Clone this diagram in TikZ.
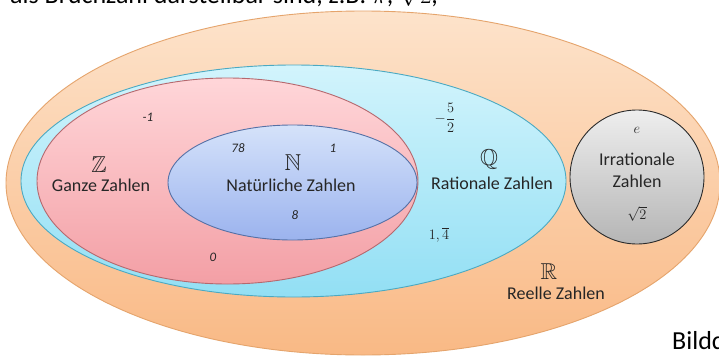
\documentclass[tikz,border=0pt]{standalone}
\usepackage{amsmath,amssymb}
\usepackage{fontspec}
\setmainfont{Carlito}
\usetikzlibrary{shapes.geometric,positioning}

\definecolor{rtop}{HTML}{FDE3CB}
\definecolor{rbot}{HTML}{F9B985}
\definecolor{rline}{HTML}{E5A46C}
\definecolor{qtop}{HTML}{D2F4FC}
\definecolor{qbot}{HTML}{92DFF4}
\definecolor{qline}{HTML}{4BA9C2}
\definecolor{ztop}{HTML}{FFD6D9}
\definecolor{zbot}{HTML}{F39FA5}
\definecolor{zline}{HTML}{B5686E}
\definecolor{ntop}{HTML}{D5E2FA}
\definecolor{nbot}{HTML}{9BB3EE}
\definecolor{nline}{HTML}{5671A6}
\definecolor{itop}{HTML}{EEEEEE}
\definecolor{ibot}{HTML}{B5B5B5}
\definecolor{iline}{HTML}{2B2B2B}
\definecolor{schrift}{HTML}{262626}

\begin{document}
\begin{tikzpicture}[x=1pt, y=-1pt, node distance=1pt,
  menge/.style={ellipse, draw, inner sep=0pt, line width=0.9pt},
  mname/.style={font=\fontsize{18}{20}\selectfont, text=schrift, inner sep=0pt},
  msym/.style={font=\fontsize{23}{26}\selectfont, text=schrift, inner sep=0pt},
  zahl/.style={font=\fontsize{13}{15}\selectfont\itshape, text=schrift, inner sep=0pt},
  mzahl/.style={font=\fontsize{14}{16}\selectfont, text=schrift, inner sep=0pt}]
\useasboundingbox (0,0) rectangle (719,356);
\clip (0,0) rectangle (719,356);
\fill [white] (0,0) rectangle (719,356);

% Mengen
\node [menge, draw=rline, top color=rtop, bottom color=rbot,
  minimum width=714, minimum height=344] (R) at (363,183) {};
\node [menge, draw=qline, top color=qtop, bottom color=qbot,
  minimum width=545, minimum height=232] (Q) at (293.5,181) {};
\node [menge, draw=zline, top color=ztop, bottom color=zbot,
  minimum width=381, minimum height=206] (Z) at (227.5,181) {};
\node [menge, draw=nline, top color=ntop, bottom color=nbot,
  minimum width=249, minimum height=115] (N) at (292.5,182.5) {};
\node [menge, draw=iline, top color=itop, bottom color=ibot,
  minimum width=134, minimum height=134] (I) at (637,177) {};

% Beschriftungen
\node [mname] (zname) at (101,185) {Ganze Zahlen};
\node [msym] (zsym) at (99,165) {$\mathbb{Z}$};
\node [mname] (nname) at (291,185) {Natürliche Zahlen};
\node [msym] (nsym) at (293,163) {$\mathbb{N}$};
\node [mname] (qname) at (492,183) {Rationale Zahlen};
\node [msym] (qsym) at (489,159) {$\mathbb{Q}$};
\node [mname] (rname) at (556,293) {Reelle Zahlen};
\node [msym] (rsym) at (549,272) {$\mathbb{R}$};
\node [mname] (iname1) at (637,159) {Irrationale};
\node [mname] (iname2) at (637,181) {Zahlen};

% Zahlen
\node [zahl] (zm1) at (148,117) {-1};
\node [zahl] (z0) at (213,257) {0};
\node [zahl] (n78) at (238,148) {78};
\node [zahl] (n1) at (333,148) {1};
\node [zahl] (n8) at (295,215) {8};
\node [mzahl] (qfrac) at (445,118) {$-\dfrac{5}{2}$};
\node [mzahl] (qper) at (439,235) {$1{,}\,\overline{4}$};
\node [mzahl] (ie) at (637,130) {$e$};
\node [mzahl, font=\fontsize{15}{17}\selectfont] (iwurzel) at (637,214) {$\sqrt{2}$};

% Text am Rand
\node [anchor=base west, inner sep=0pt, font=\fontsize{26}{28}\selectfont]
  (kopf) at (10,3) {als Bruchzahl darstellbar sind, z.B. $\pi$, $\sqrt{2}$,};
\node [anchor=base west, inner sep=0pt, font=\fontsize{26}{28}\selectfont]
  (quelle) at (672,349) {Bildquelle};
\end{tikzpicture}
\end{document}
